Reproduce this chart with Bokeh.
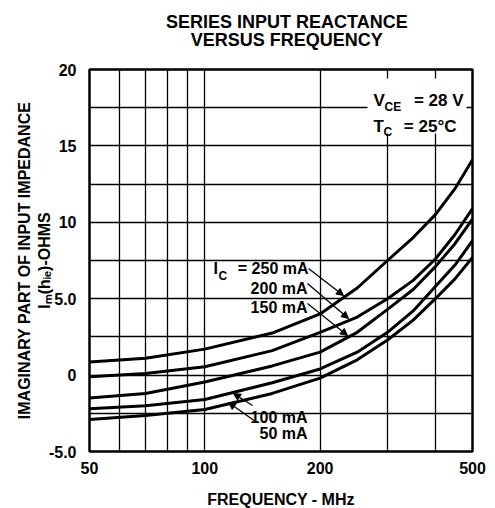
from bokeh.plotting import figure
from bokeh.layouts import column
from bokeh.models import FixedTicker, Label, Arrow, NormalHead, BoxAnnotation, Range1d
from bokeh.core.properties import value
from bokeh.embed import file_html
from bokeh.resources import INLINE

# ---- data ----
freq_mhz = [50, 70, 100, 150, 200, 250, 300, 350, 400, 450, 500]
ic_250ma = [0.85, 1.1, 1.7, 2.75, 4.0, 5.7, 7.5, 9.0, 10.5, 12.2, 14.1]
ic_200ma = [-0.1, 0.1, 0.55, 1.6, 2.8, 3.8, 5.0, 6.2, 7.6, 9.2, 10.9]
ic_150ma = [-1.5, -1.2, -0.45, 0.6, 1.5, 2.8, 4.3, 5.6, 7.1, 8.6, 10.2]
ic_100ma = [-2.2, -2.0, -1.6, -0.5, 0.4, 1.5, 2.8, 4.2, 5.8, 7.2, 8.8]
ic_50ma = [-2.9, -2.65, -2.25, -1.2, -0.2, 1.0, 2.3, 3.6, 5.0, 6.3, 7.7]

x_ticks = [50, 100, 200, 500]
x_grid = [60, 70, 80, 90, 100, 200, 300, 400]
y_ticks = [-5, 0, 5, 10, 15, 20]
y_tick_labels = {-5: "-5.0", 0: "0", 5: "5.0", 10: "10", 15: "15", 20: "20"}
y_grid = [-2.5, 0, 2.5, 5, 7.5, 10, 12.5, 15, 17.5]

title_lines = ["SERIES INPUT REACTANCE", "VERSUS FREQUENCY"]
x_title = "FREQUENCY - MHz"
y_title = "IMAGINARY PART OF INPUT IMPEDANCE\nIₘ(hᵢₑ)-OHMS"

FONT = "Liberation Sans"

# page geometry (pixels)
W, H = 495, 508
TITLE_H = 60
FL, FR, FT, FB = 89, 472, 69, 451


def px2data(px, py):
    f = 50 * 10 ** ((px - FL) / (FR - FL))
    y = 20 - (py - FT) * 25.0 / (FB - FT)
    return f, y


# ---- title strip (no axes) ----
pt = figure(width=W, height=TITLE_H, x_range=Range1d(0, W), y_range=Range1d(TITLE_H, 0),
            x_axis_location=None, y_axis_location=None,
            min_border=0, output_backend="svg", toolbar_location=None,
            outline_line_color=None, background_fill_color="white",
            border_fill_color="white")
pt.grid.visible = False
pt.text(x=[255, 255], y=[21, 39], text=title_lines, text_align="center",
        text_baseline="alphabetic", text_font=value(FONT), text_font_size="18px",
        text_font_style="bold", text_color="black")

# ---- main chart ----
p = figure(x_axis_type="log", x_range=Range1d(50, 500), y_range=Range1d(-5, 20),
           frame_width=FR - FL, frame_height=FB - FT,
           min_border_left=FL, min_border_right=W - FR,
           min_border_top=FT - TITLE_H, min_border_bottom=H - FB,
           output_backend="svg", toolbar_location=None,
           background_fill_color="white", border_fill_color="white")

p.outline_line_color = "black"
p.outline_line_width = 2.5

for ax in (p.xaxis, p.yaxis):
    ax.axis_line_color = None
    ax.major_tick_line_color = None
    ax.minor_tick_line_color = None
    ax.major_label_text_font = FONT
    ax.major_label_text_font_size = "16px"
    ax.major_label_text_font_style = "bold"
    ax.major_label_text_color = "black"
    ax.axis_label_text_font = FONT
    ax.axis_label_text_font_style = "bold"
    ax.axis_label_text_color = "black"

p.xaxis.ticker = FixedTicker(ticks=x_ticks)
p.xaxis.major_label_overrides = {t: str(t) for t in x_ticks}
p.xaxis.major_label_standoff = 4
p.xaxis.axis_label = x_title
p.xaxis.axis_label_text_font_size = "16px"
p.xaxis.axis_label_standoff = 14

p.yaxis.ticker = FixedTicker(ticks=y_ticks)
p.yaxis.major_label_overrides = y_tick_labels
p.yaxis.major_label_standoff = 7
p.yaxis.axis_label = y_title
p.yaxis.axis_label_text_font_size = "16px"
p.yaxis.axis_label_standoff = -7

p.xgrid.ticker = FixedTicker(ticks=x_grid)
p.ygrid.ticker = FixedTicker(ticks=y_grid)
for g in (p.xgrid, p.ygrid):
    g.grid_line_color = "black"
    g.grid_line_width = 1.3
    g.grid_line_alpha = 1.0

for series in (ic_250ma, ic_200ma, ic_150ma, ic_100ma, ic_50ma):
    p.line(freq_mhz, series, line_color="black", line_width=3)

# white box behind the condition text
bl, bb = px2data(367, 133)
br, bt = px2data(466, 78)
p.add_layout(BoxAnnotation(left=bl, right=br, bottom=bb, top=bt,
                           fill_color="white", fill_alpha=1.0, line_color=None,
                           level="annotation"))


def lab(px, py, text, size=16, align="left", style="bold"):
    x, y = px2data(px, py)
    p.add_layout(Label(x=x, y=y, text=text, text_font=FONT,
                       text_font_size=f"{size}px", text_font_style=style,
                       text_align=align, text_baseline="alphabetic",
                       text_color="black"))


# conditions
lab(373, 100, "V", 17)
lab(384, 106, "CE", 12)
lab(463, 100, "= 28 V", 17, "right")
lab(373, 126, "T", 17)
lab(383, 131, "C", 12)
lab(456, 126, "= 25°C", 17, "right")

# curve labels
lab(213, 268, "I", 16)
lab(218, 275, "C", 12)
lab(308, 268, "= 250 mA", 16, "right")
lab(307, 288, "200 mA", 16, "right")
lab(307, 307, "150 mA", 16, "right")
lab(307, 417, "100 mA", 16, "right")
lab(307, 433, "50 mA", 16, "right")

# leader arrows
arrows = [((308, 268), (343, 295)),
          ((307, 283), (348, 318)),
          ((307, 303), (347, 335)),
          ((252, 405), (233, 393)),
          ((255, 421), (228, 402))]
for (sx, sy), (ex, ey) in arrows:
    x0, y0 = px2data(sx, sy)
    x1, y1 = px2data(ex, ey)
    p.add_layout(Arrow(x_start=x0, y_start=y0, x_end=x1, y_end=y1,
                       line_color="black", line_width=1.3,
                       end=NormalHead(size=7, fill_color="black", line_color="black")))

layout = column(pt, p, spacing=0)
open("out.html", "w").write(file_html(layout, INLINE))
